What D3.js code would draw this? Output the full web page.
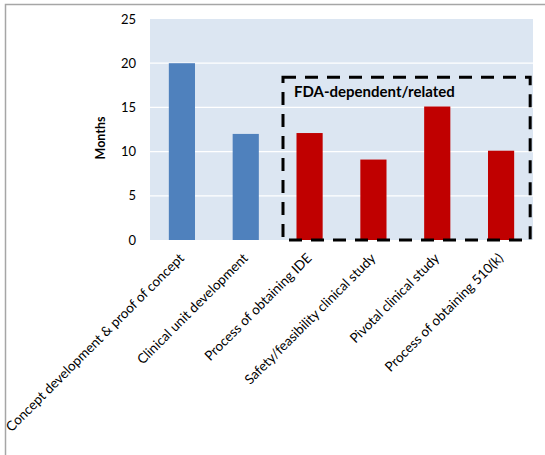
<!DOCTYPE html>
<html><head><meta charset="utf-8">
<script src="https://cdn.jsdelivr.net/npm/d3@7/dist/d3.min.js"></script>
<style>body{margin:0;background:#fff}svg{display:block}</style>
</head><body>
<svg id="c" width="545" height="455"></svg>
<script>
const categories = ["Concept development & proof of concept","Clinical unit development","Process of obtaining IDE","Safety/feasibility clinical study","Pivotal clinical study","Process of obtaining 510(k)"];
const values = [20, 12, 12.1, 9.1, 15.1, 10.1];
const fdaRelated = [false, false, true, true, true, true];
const yTicks = [0, 5, 10, 15, 20, 25];
const boxLabel = "FDA-dependent/related";
const yTitle = "Months";

const svg = d3.select("#c");
const font = "Lato, 'Open Sans', sans-serif";
const L = 150, R = 533, T = 19, B = 240;

svg.append("rect").attr("x",5.5).attr("y",4.5).attr("width",700).attr("height",700)
  .attr("fill","none").attr("stroke","#a6a6a6").attr("stroke-width",1.5);

const x = d3.scaleBand().domain(categories).range([L,R]).paddingInner(0.59).paddingOuter(0.295);
const y = d3.scaleLinear().domain([0,25]).range([B,T]);

svg.append("rect").attr("x",L).attr("y",T).attr("width",R-L).attr("height",B-T).attr("fill","#dce6f2");
svg.append("g").selectAll("line").data(yTicks.filter(t=>t>0&&t<25)).join("line")
  .attr("x1",L).attr("x2",R).attr("y1",d=>y(d)).attr("y2",d=>y(d))
  .attr("stroke","#fff").attr("stroke-width",1.3);

svg.append("g").selectAll("rect").data(categories).join("rect")
  .attr("x",d=>x(d)).attr("width",x.bandwidth())
  .attr("y",(d,i)=>y(values[i])).attr("height",(d,i)=>y(0)-y(values[i]))
  .attr("fill",(d,i)=>fdaRelated[i]?"#c00000":"#4f81bd");

// y axis
const ya = svg.append("g").attr("transform",`translate(${L},0)`)
  .call(d3.axisLeft(y).tickValues(yTicks).tickSize(0).tickPadding(14));
ya.select(".domain").remove();
ya.selectAll("text").attr("font-family",font).attr("font-size",13).attr("fill","#000");

svg.append("text").attr("transform",`translate(105,138) rotate(-90)`)
  .attr("text-anchor","middle").attr("font-family",font).attr("font-size",12.5)
  .attr("font-weight","bold").text(yTitle);

// x labels
svg.append("g").selectAll("text").data(categories).join("text")
  .attr("transform",d=>`translate(${x(d)+x.bandwidth()/2+3},${B+19}) rotate(-45)`)
  .attr("text-anchor","end").attr("font-family",font).attr("font-size",13.5).attr("fill","#000")
  .text(d=>d);

// dashed box
const first = categories[fdaRelated.indexOf(true)], last = categories[categories.length-1];
const bx0 = x(first) - 13.5, bx1 = x(last) + x.bandwidth() + 16;
svg.append("rect").attr("x",bx0).attr("y",y(18.4)).attr("width",bx1-bx0).attr("height",y(0)-y(18.4))
  .attr("fill","none").attr("stroke","#000").attr("stroke-width",3).attr("stroke-dasharray","13,9");
svg.append("text").attr("x",bx0+11).attr("y",y(16.2)).attr("font-family",font)
  .attr("font-size",15).attr("font-weight","bold").text(boxLabel);
</script>
</body></html>
